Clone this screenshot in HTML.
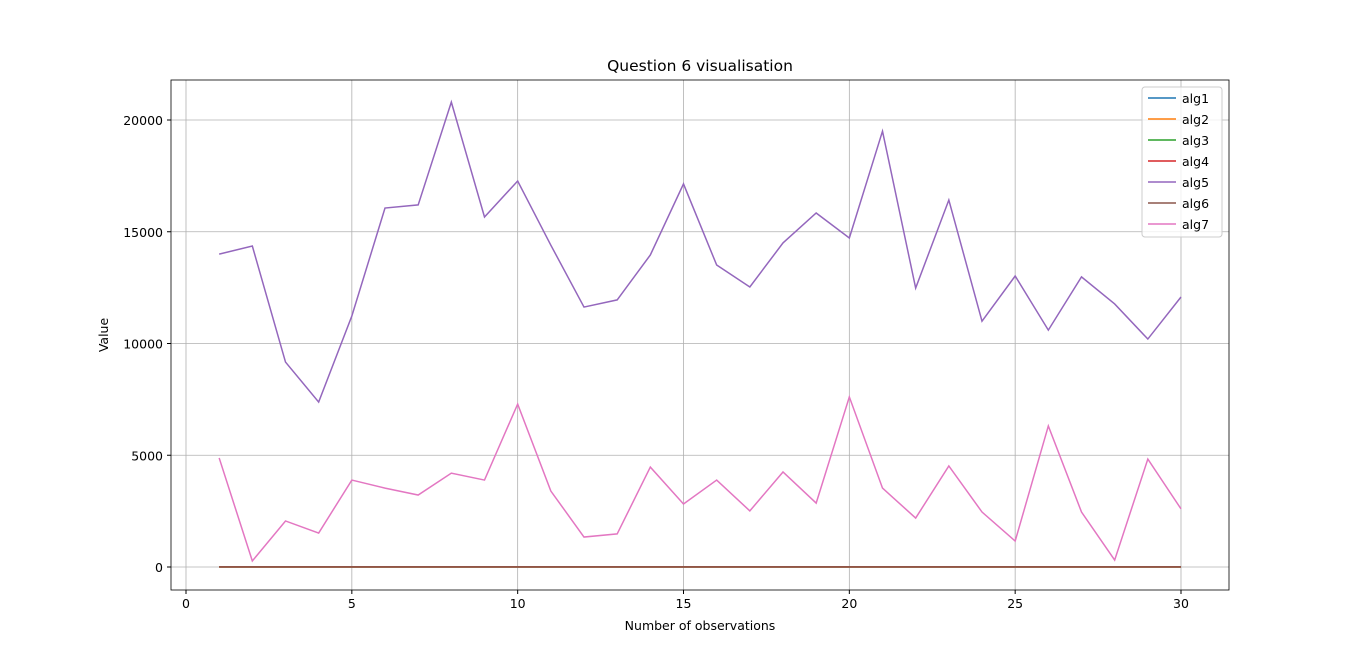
<!DOCTYPE html>
<html><head><meta charset="utf-8"><style>
body{margin:0;background:#fff}
svg{display:block;font-family:"DejaVu Sans","Liberation Sans",sans-serif}
</style></head><body>
<svg id="chart" width="1366" height="663"></svg>
<script>
const xs=[1,2,3,4,5,6,7,8,9,10,11,12,13,14,15,16,17,18,19,20,21,22,23,24,25,26,27,28,29,30];
const alg1=xs.map(()=>1);
const alg2=xs.map(()=>2);
const alg3=xs.map(()=>3);
const alg4=xs.map(()=>4);
const alg5=[14000,14360,9170,7380,11230,16060,16200,20800,15660,17270,14400,11630,11950,13960,17140,13510,12530,14500,15840,14720,19500,12480,16420,11000,13020,10600,12980,11770,10200,12080];
const alg6=xs.map(()=>6);
const alg7=[4880,270,2060,1520,3890,3530,3220,4200,3890,7290,3400,1340,1480,4470,2820,3890,2510,4250,2860,7610,3530,2190,4520,2460,1160,6310,2460,310,4830,2600];
const seriesNames=["alg1","alg2","alg3","alg4","alg5","alg6","alg7"];
const seriesColors=["#1f77b4","#ff7f0e","#2ca02c","#d62728","#9467bd","#8c564b","#e377c2"];
const xTicks=[0,5,10,15,20,25,30];
const yTicks=[0,5000,10000,15000,20000];
const L=171,R=1229,T=80,B=590;
const X=v=>186+v*(1181-186)/30;
const Y=v=>567-v*(567-120)/20000;
const svg=document.getElementById('chart');
const NS='http://www.w3.org/2000/svg';
function mk(t,a,p){const e=document.createElementNS(NS,t);for(const k in a)e.setAttribute(k,a[k]);(p||svg).appendChild(e);return e;}
xTicks.forEach(t=>{
 const g=mk('line',{x1:X(t),x2:X(t),y1:T,y2:B,stroke:'#b0b0b0','stroke-width':0.8});
 
 mk('line',{x1:X(t),x2:X(t),y1:B,y2:B+4,stroke:'#000'});
 const tx=mk('text',{x:X(t),y:B+18,'text-anchor':'middle','font-size':12.5});tx.textContent=t;
 
});
yTicks.forEach(t=>{
 const g=mk('line',{x1:L,x2:R,y1:Y(t),y2:Y(t),stroke:'#b0b0b0','stroke-width':0.8});
 
 mk('line',{x1:L-4,x2:L,y1:Y(t),y2:Y(t),stroke:'#000'});
 const tx=mk('text',{x:L-8,y:Y(t)+5,'text-anchor':'end','font-size':12.5});tx.textContent=t;
 
});
const data=[alg1,alg2,alg3,alg4,alg5,alg6,alg7];
data.forEach((d,i)=>{
 const p=mk('polyline',{points:d.map((v,j)=>X(xs[j])+','+Y(v)).join(' '),fill:'none',stroke:seriesColors[i],'stroke-width':1.5});
 
});
const fr=mk('rect',{x:L,y:T,width:R-L,height:B-T,fill:'none',stroke:'#000','stroke-width':0.8});

const tt=mk('text',{x:700,y:71,'text-anchor':'middle','font-size':15.5});tt.textContent='Question 6 visualisation';

const xl=mk('text',{x:700,y:630,'text-anchor':'middle','font-size':12.5});xl.textContent='Number of observations';

const yl=mk('text',{x:108,y:335,'text-anchor':'middle','font-size':12.5,transform:'rotate(-90 108 335)'});yl.textContent='Value';

const lg=mk('rect',{x:1142,y:87,width:80,height:150,rx:3,fill:'#fff','fill-opacity':0.8,stroke:'#ccc'});

seriesNames.forEach((n,i)=>{
 const y=98+i*21;
 mk('line',{x1:1148,x2:1176,y1:y,y2:y,stroke:seriesColors[i],'stroke-width':1.5});
 const t=mk('text',{x:1182,y:y+5,'font-size':12.5});t.textContent=n;
 
});
</script>
</body></html>
